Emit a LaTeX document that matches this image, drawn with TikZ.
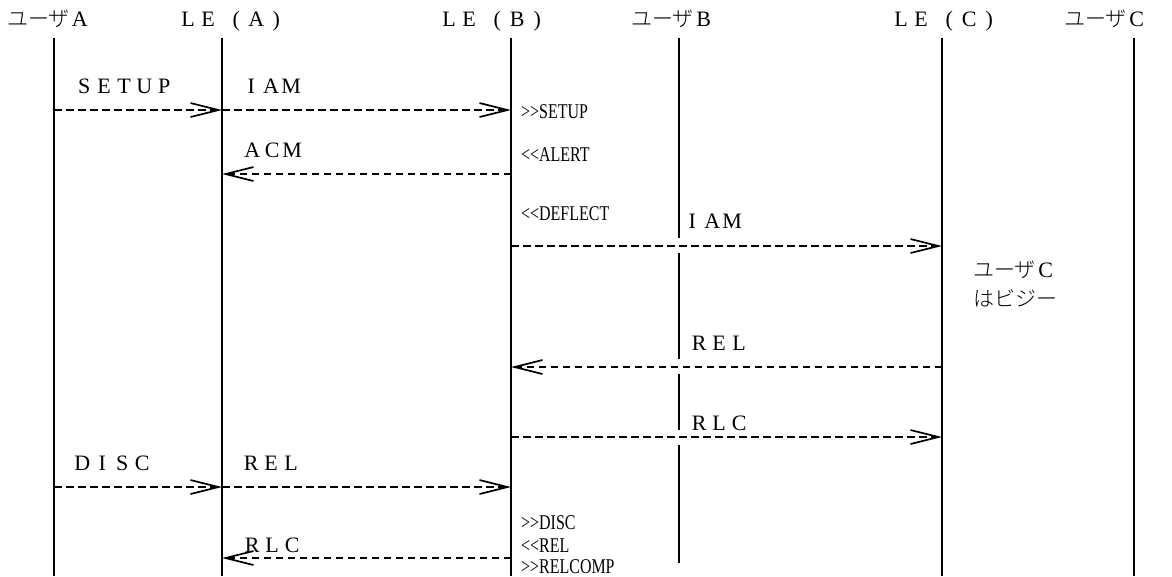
\documentclass[tikz,border=0pt]{standalone}
\usepackage{fontspec}
\setmainfont{Liberation Serif}
\newfontfamily\jpfont{Noto Sans CJK JP Light}
\newfontfamily\narrowfont[FakeStretch=0.76]{Liberation Serif}
\usetikzlibrary{positioning}
\usetikzlibrary{arrows.meta}

% full-width letters: one 20pt cell per letter
\makeatletter
\newcommand{\fwtext}[1]{\fwtext@#1\@nil}
\def\fwtext@#1{\ifx#1\@nil\else\makebox[20pt]{#1}\expandafter\fwtext@\fi}
\makeatother
\newcommand{\kana}[1]{{\jpfont\fontsize{21}{24}\selectfont #1}}

\begin{document}
\begin{tikzpicture}[
        x = 1pt, y = -1pt, % pixel-like units, y down
        > = {Straight Barb[length=28pt, width=14pt]}, % open arrow head
        life/.style = {line width=1.8pt},
        msg/.style = {->, line width=1.7pt, dash pattern=on 7.5pt off 4.5pt},
        head/.style = {anchor=base west, inner sep=0pt, font=\fontsize{22}{24}\selectfont},
        lbl/.style = {anchor=base west, inner sep=0pt, font=\fontsize{22}{24}\selectfont},
        note/.style = {anchor=base west, inner sep=0pt, font=\narrowfont\fontsize{21}{22}\selectfont}
    ]

    \useasboundingbox (0,0) rectangle (1172,576);

    % lifelines
    \coordinate (ua)  at (54,38);
    \coordinate (lea) at (222,38);
    \coordinate (leb) at (511,38);
    \coordinate (ub)  at (679,38);
    \coordinate (lec) at (942,38);
    \coordinate (uc)  at (1134,38);
    \coordinate (bot) at (0,576);

    % message rows
    \coordinate (r1) at (0,110);
    \coordinate (r2) at (0,174);
    \coordinate (r3) at (0,246);
    \coordinate (r4) at (0,367);
    \coordinate (r5) at (0,437);
    \coordinate (r6) at (0,487);
    \coordinate (r7) at (0,558);

    % headers
    \node[head] (hua)  at (7,26)    {\kana{ユーザ}\fwtext{A}};
    \node[head] (hlea) at (178,26)  {\fwtext{LE}\hspace{8pt}\fwtext{(A)}};
    \node[head] (hleb) at (439,26)  {\fwtext{LE}\hspace{8pt}\fwtext{(B)}};
    \node[head] (hub)  at (631,26)  {\kana{ユーザ}\fwtext{B}};
    \node[head] (hlec) at (891,26)  {\fwtext{LE}\hspace{8pt}\fwtext{(C)}};
    \node[head] (huc)  at (1064,26) {\kana{ユーザ}\fwtext{C}};

    \draw[life] (ua) -- (ua |- bot);
    \draw[life] (lea) -- (lea |- bot);
    \draw[life] (leb) -- (leb |- bot);
    \draw[life] (lec) -- (lec |- bot);
    \draw[life] (uc) -- (uc |- bot);
    % user B line is broken where messages cross it
    \draw[life] (ub) -- ++(0,200)
                ++(0,15) -- ++(0,106)
                ++(0,15) -- ++(0,56)
                ++(0,15) -- ++(0,118);

    % messages
    \draw[msg] (ua |- r1)  -- (lea |- r1);
    \draw[msg] (lea |- r1) -- (leb |- r1);
    \draw[msg] (leb |- r2) -- (lea |- r2);
    \draw[msg] (leb |- r3) -- (lec |- r3);
    \draw[msg] (lec |- r4) -- (leb |- r4);
    \draw[msg] (leb |- r5) -- (lec |- r5);
    \draw[msg] (ua |- r6)  -- (lea |- r6);
    \draw[msg] (lea |- r6) -- (leb |- r6);
    \draw[msg] (leb |- r7) -- (lea |- r7);

    % message labels
    \node[lbl] (lsetup) at (74,93)   {\fwtext{SETUP}};
    \node[lbl] (liam1)  at (241,93)  {\fwtext{IAM}};
    \node[lbl] (lacm)   at (242,157) {\fwtext{ACM}};
    \node[lbl] (liam2)  at (682,228) {\fwtext{IAM}};
    \node[lbl] (lrel1)  at (689,350) {\fwtext{REL}};
    \node[lbl] (lrlc1)  at (689,430) {\fwtext{RLC}};
    \node[lbl] (ldisc)  at (72,470)  {\fwtext{DISC}};
    \node[lbl] (lrel2)  at (241,470) {\fwtext{REL}};
    \node[lbl] (lrlc2)  at (242,552) {\fwtext{RLC}};

    % notes at LE(B)
    \node[note] (nsetup)   at (521,118) {>{}>SETUP};
    \node[note] (nalert)   at (521,161) {<{}<ALERT};
    \node[note] (ndeflect) at (521,220) {<{}<DEFLECT};
    \node[note] (ndisc)    at (521,529) {>{}>DISC};
    \node[note] (nrel)     at (521,552) {<{}<REL};
    \node[note] (nrelcomp) at (521,573) {>{}>RELCOMP};

    % user C state
    \node[head] (busy1) at (973,277) {\kana{ユーザ}\fwtext{C}};
    \node[head] (busy2) at (973,306) {\kana{はビジー}};

\end{tikzpicture}
\end{document}
